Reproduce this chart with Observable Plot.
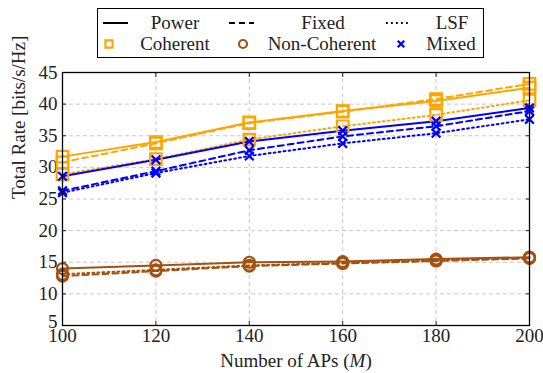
<!DOCTYPE html>
<html><head><meta charset="utf-8">
<script src="https://cdn.jsdelivr.net/npm/d3@7"></script>
<script src="https://cdn.jsdelivr.net/npm/@observablehq/plot@0.6"></script>
<style>
body{margin:0;background:#fff;font-family:"Liberation Serif",serif;}
#wrap{position:relative;width:543px;height:373px;}
#legend{position:absolute;left:97px;top:8px;width:385px;height:48px;border:1.3px solid #000;background:#fff;}
#legend svg{position:absolute;left:0;top:0;}
</style></head><body>
<div id="wrap"><div id="chart"></div><div id="legend"></div></div>
<script>
const aps = [100, 120, 140, 160, 180, 200];
const coherentPower = [31.7, 34.0, 37.1, 38.9, 40.5, 42.6];
const coherentFixed = [30.8, 33.8, 37.0, 38.8, 40.8, 43.2];
const coherentLSF   = [28.9, 31.3, 34.4, 36.5, 38.3, 40.6];
const mixedPower    = [28.6, 31.2, 34.1, 35.8, 37.3, 39.4];
const mixedFixed    = [26.3, 29.4, 32.7, 34.9, 36.5, 38.9];
const mixedLSF      = [26.0, 29.1, 31.8, 33.8, 35.4, 37.6];
const nonCohPower   = [14.0, 14.5, 15.0, 15.1, 15.5, 15.8];
const nonCohFixed   = [12.8, 13.6, 14.4, 14.8, 15.2, 15.6];
const nonCohLSF     = [13.1, 13.8, 14.5, 14.9, 15.3, 15.7];
const xTicks = [100, 120, 140, 160, 180, 200];
const yTicks = [5, 10, 15, 20, 25, 30, 35, 40, 45];

const FS = 19;
const colors = {Coherent: "#FFA500", "Non-Coherent": "#A5500F", Mixed: "#0000FF"};
const symbols = {Coherent: "square", "Non-Coherent": "circle", Mixed: "times"};
const radii = {Coherent: 6.5, "Non-Coherent": 5.5, Mixed: 4};
const dashes = {Power: null, Fixed: "6,4", LSF: "1.8,3.2"};

const series = [
  ["Coherent","Power",coherentPower],["Coherent","Fixed",coherentFixed],["Coherent","LSF",coherentLSF],
  ["Non-Coherent","Power",nonCohPower],["Non-Coherent","Fixed",nonCohFixed],["Non-Coherent","LSF",nonCohLSF],
  ["Mixed","Power",mixedPower],["Mixed","Fixed",mixedFixed],["Mixed","LSF",mixedLSF]
];

const marks = [
  Plot.gridX(xTicks, {stroke: "#bbb", strokeOpacity: 1, strokeDasharray: "4,3", strokeWidth: 0.8}),
  Plot.gridY(yTicks, {stroke: "#bbb", strokeOpacity: 1, strokeDasharray: "4,3", strokeWidth: 0.8}),
  Plot.axisX({ticks: xTicks, tickSize: 0, tickPadding: 3, fontSize: FS, label: null}),
  Plot.axisX({ticks: xTicks, anchor: "bottom", tickSize: -4, tickFormat: () => "", label: null}),
  Plot.axisX({ticks: xTicks, anchor: "top", tickSize: -4, tickFormat: () => "", label: null}),
  Plot.axisY({ticks: yTicks.slice(1), tickSize: 0, tickPadding: 5, fontSize: FS, label: null}),
  Plot.axisY({ticks: yTicks.slice(0, 1), tickSize: 0, tickPadding: 5, fontSize: FS, dy: -4, label: null}),
  Plot.axisY({ticks: yTicks, anchor: "left", tickSize: -4, tickFormat: () => "", label: null}),
  Plot.axisY({ticks: yTicks, anchor: "right", tickSize: -4, tickFormat: () => "", label: null}),
];
for (const [grp, scheme, vals] of series) {
  const data = aps.map((m, i) => ({m, v: vals[i]}));
  marks.push(Plot.line(data, {x: "m", y: "v", stroke: colors[grp], strokeWidth: 2, strokeDasharray: dashes[scheme]}));
}
for (const [grp, scheme, vals] of series) {
  const data = aps.map((m, i) => ({m, v: vals[i]}));
  marks.push(Plot.dot(data, {x: "m", y: "v", stroke: colors[grp], symbol: symbols[grp], r: radii[grp], strokeWidth: 2.2, fill: "none"}));
}
marks.push(Plot.frame({stroke: "#000", strokeWidth: 1.3}));
marks.push(Plot.text(["Number of APs (M)"], {frameAnchor: "bottom", dy: 41, fontSize: FS, text: d => d}));
marks.push(Plot.text(["Total Rate [bits/s/Hz]"], {frameAnchor: "left", dx: -44, rotate: -90, fontSize: FS, text: d => d}));

const chart = Plot.plot({
  width: 543, height: 373,
  marginTop: 72, marginLeft: 62, marginRight: 14, marginBottom: 48,
  style: {fontFamily: "'Liberation Serif', serif", fontSize: FS + "px", color: "#222", background: "#fff"},
  x: {domain: [100, 200]},
  y: {domain: [5, 45]},
  marks
});
document.getElementById("chart").appendChild(chart);

chart.querySelectorAll("text").forEach(t => {
  if (t.textContent === "Number of APs (M)") {
    t.textContent = "";
    const a = document.createElementNS("http://www.w3.org/2000/svg","tspan"); a.textContent = "Number of APs (";
    const b = document.createElementNS("http://www.w3.org/2000/svg","tspan"); b.textContent = "M"; b.setAttribute("font-style","italic");
    const c = document.createElementNS("http://www.w3.org/2000/svg","tspan"); c.textContent = ")";
    t.append(a,b,c);
  }
});

// legend
const L = d3.select("#legend").append("svg").attr("width", 385).attr("height", 48);
const row1 = 14, row2 = 35;
const lineItems = [["Power", null, 5, 77], ["Fixed", "6,4", 131, 225], ["LSF", "1.8,3.2", 288, 354]];
for (const [name, dash, x0, tx] of lineItems) {
  L.append("line").attr("x1", x0).attr("x2", x0 + 25).attr("y1", row1).attr("y2", row1)
    .attr("stroke", "#000").attr("stroke-width", 2).attr("stroke-dasharray", dash);
  L.append("text").attr("x", tx).attr("y", row1 + 6).attr("text-anchor", "middle").text(name);
}
const symItems = [["Coherent", 11, 77], ["Non-Coherent", 145, 224], ["Mixed", 303, 353]];
for (const [name, x0, tx] of symItems) {
  const sym = d3.symbol().type(symbols[name] === "square" ? d3.symbolSquare : symbols[name] === "circle" ? d3.symbolCircle : d3.symbolTimes).size(symbols[name] === "times" ? 30 : 50);
  L.append("path").attr("d", sym()).attr("transform", `translate(${x0},${row2})`)
    .attr("fill", "none").attr("stroke", colors[name]).attr("stroke-width", 2.2);
  L.append("text").attr("x", tx).attr("y", row2 + 6).attr("text-anchor", "middle").text(name);
}
L.selectAll("text").attr("font-family", "'Liberation Serif', serif").attr("font-size", FS).attr("fill", "#222");
</script>
</body></html>
